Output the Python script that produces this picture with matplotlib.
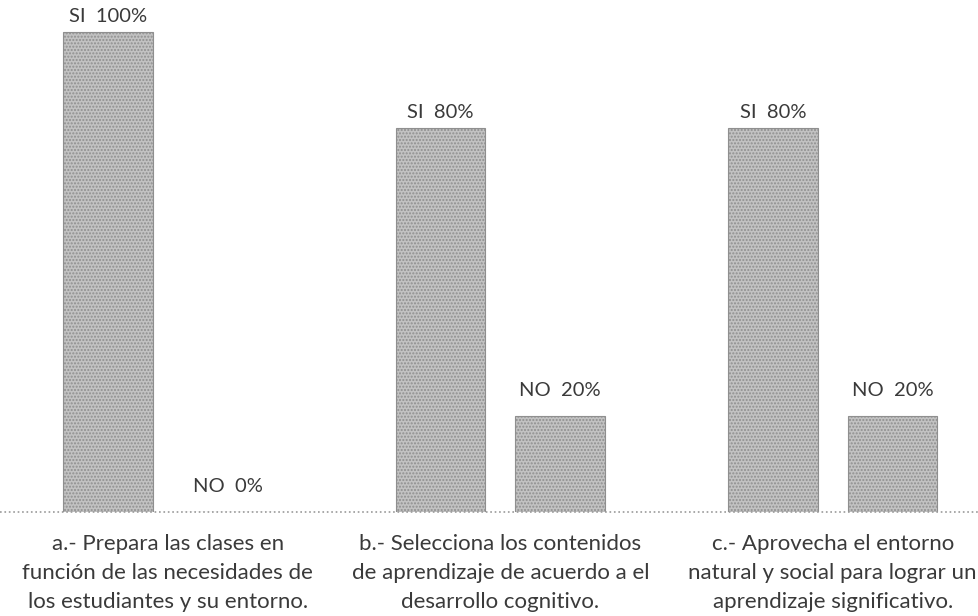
import matplotlib
matplotlib.use("Agg")
import matplotlib.pyplot as plt
import numpy as np

categories = [
    "a.- Prepara las clases en\nfunción de las necesidades de\nlos estudiantes y su entorno.",
    "b.- Selecciona los contenidos\nde aprendizaje de acuerdo a el\ndesarrollo cognitivo.",
    "c.- Aprovecha el entorno\nnatural y social para lograr un\naprendizaje significativo.",
]
si_values = [100, 80, 80]
no_values = [0, 20, 20]
si_labels = ["SI  100%", "SI  80%", "SI  80%"]
no_labels = ["NO  0%", "NO  20%", "NO  20%"]

plt.rcParams['font.family'] = ['Lato', 'DejaVu Sans']

fig = plt.figure(figsize=(9.79, 6.16), dpi=100)
ax = fig.add_axes([0, 0.169, 1, 0.831])

x = np.arange(len(categories))
off = 0.18
w = 0.27
bar_kw = dict(width=w, color='#c2c2c2', edgecolor='#8f8f8f', hatch='.....', linewidth=0.8)
b1 = ax.bar(x - off, si_values, **bar_kw)
b2 = ax.bar(x + off, no_values, **bar_kw)

for rect, lab in zip(b1, si_labels):
    ax.annotate(lab, (rect.get_x() + rect.get_width() / 2, rect.get_height()),
                xytext=(0, 5), textcoords='offset points', ha='center', va='bottom',
                fontsize=14.5, color='#3a3a3a')
for rect, lab in zip(b2, no_labels):
    ax.annotate(lab, (rect.get_x() + rect.get_width() / 2, rect.get_height()),
                xytext=(0, 12), textcoords='offset points', ha='center', va='bottom',
                fontsize=14.5, color='#3a3a3a')

ax.set_xlim(-0.505, 2.44)
ax.set_ylim(0, 106.7)
ax.axhline(0, color='#9a9a9a', linestyle=':', linewidth=1.2, clip_on=False)
for s in ax.spines.values():
    s.set_visible(False)
ax.set_yticks([])
ax.set_xticks(x)
ax.set_xticklabels(categories, fontsize=16, color='#3a3a3a', linespacing=1.55)
ax.tick_params(axis='x', length=0, pad=16)

fig.savefig("out.png", dpi=100)
